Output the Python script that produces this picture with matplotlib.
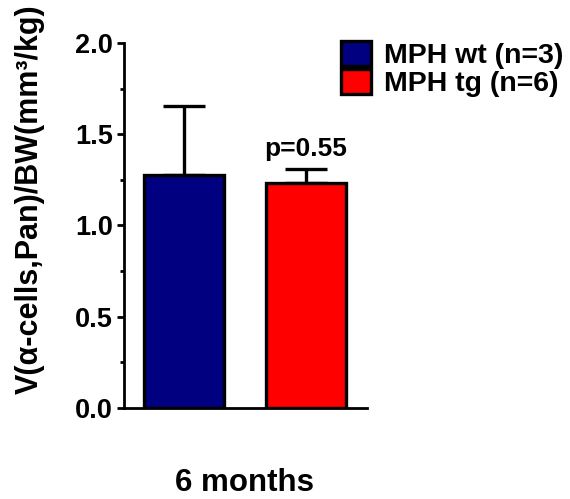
import matplotlib
matplotlib.use("Agg")
import matplotlib.pyplot as plt
from matplotlib.patches import Patch
from matplotlib.ticker import MultipleLocator

plt.rcParams['font.family'] = ['Liberation Sans', 'DejaVu Sans']
plt.rcParams['font.weight'] = 'bold'

groups = ["MPH wt (n=3)", "MPH tg (n=6)"]
means = [1.277, 1.235]
sems = [0.378, 0.075]
colors = ["#000080", "#FF0000"]
category = "6 months"
p_label = "p=0.55"
y_ticks = [0.0, 0.5, 1.0, 1.5, 2.0]
y_label = "V(\u03b1-cells,Pan)/BW(mm\u00b3/kg)"

fig = plt.figure(figsize=(5.70, 4.99), dpi=100)
ax = fig.add_axes([0.2175, 0.1824, 0.4265, 0.7314])

positions = [0, 1]
bars = ax.bar(positions, means, width=0.66, color=colors, edgecolor="black",
              linewidth=2.4, zorder=2)
ax.errorbar(positions, means, yerr=[[0, 0], sems], fmt="none", ecolor="black",
            elinewidth=2.4, capsize=15, capthick=2.4, zorder=1)

ax.annotate(p_label, xy=(positions[1], means[1] + sems[1]), xytext=(0, 9),
            textcoords="offset points", ha="center", va="baseline",
            fontsize=19, fontweight="bold")

ax.set_xlim(-0.49, 1.5)
ax.set_ylim(0, 2.0)
ax.set_yticks(y_ticks)
ax.set_yticklabels([f"{t:.1f}" for t in y_ticks], fontsize=19.5, fontweight="bold")
ax.yaxis.set_minor_locator(MultipleLocator(0.25))
ax.tick_params(axis="y", which="major", direction="out", length=5, width=2, pad=3)
ax.tick_params(axis="y", which="minor", direction="out", length=3, width=2)
ax.set_xticks([0.5])
ax.set_xticklabels([category], fontsize=22.5, fontweight="bold")
ax.tick_params(axis="x", length=0, pad=43)

for side in ("top", "right"):
    ax.spines[side].set_visible(False)
for side in ("left", "bottom"):
    ax.spines[side].set_linewidth(2)

ax.set_ylabel(y_label, fontsize=22, fontweight="bold")
ax.yaxis.set_label_coords(-0.325, 0.572)

handles = [Patch(facecolor=c, edgecolor="black", linewidth=2.4) for c in colors]
fig.legend(handles, groups, loc="upper left", bbox_to_anchor=(0.598, 0.917),
           frameon=False, handlelength=1.05, handleheight=0.94,
           handletextpad=0.45, labelspacing=0.0, borderpad=0, borderaxespad=0,
           prop={"weight": "bold", "size": 20.5})

fig.savefig("out.png", dpi=100)
